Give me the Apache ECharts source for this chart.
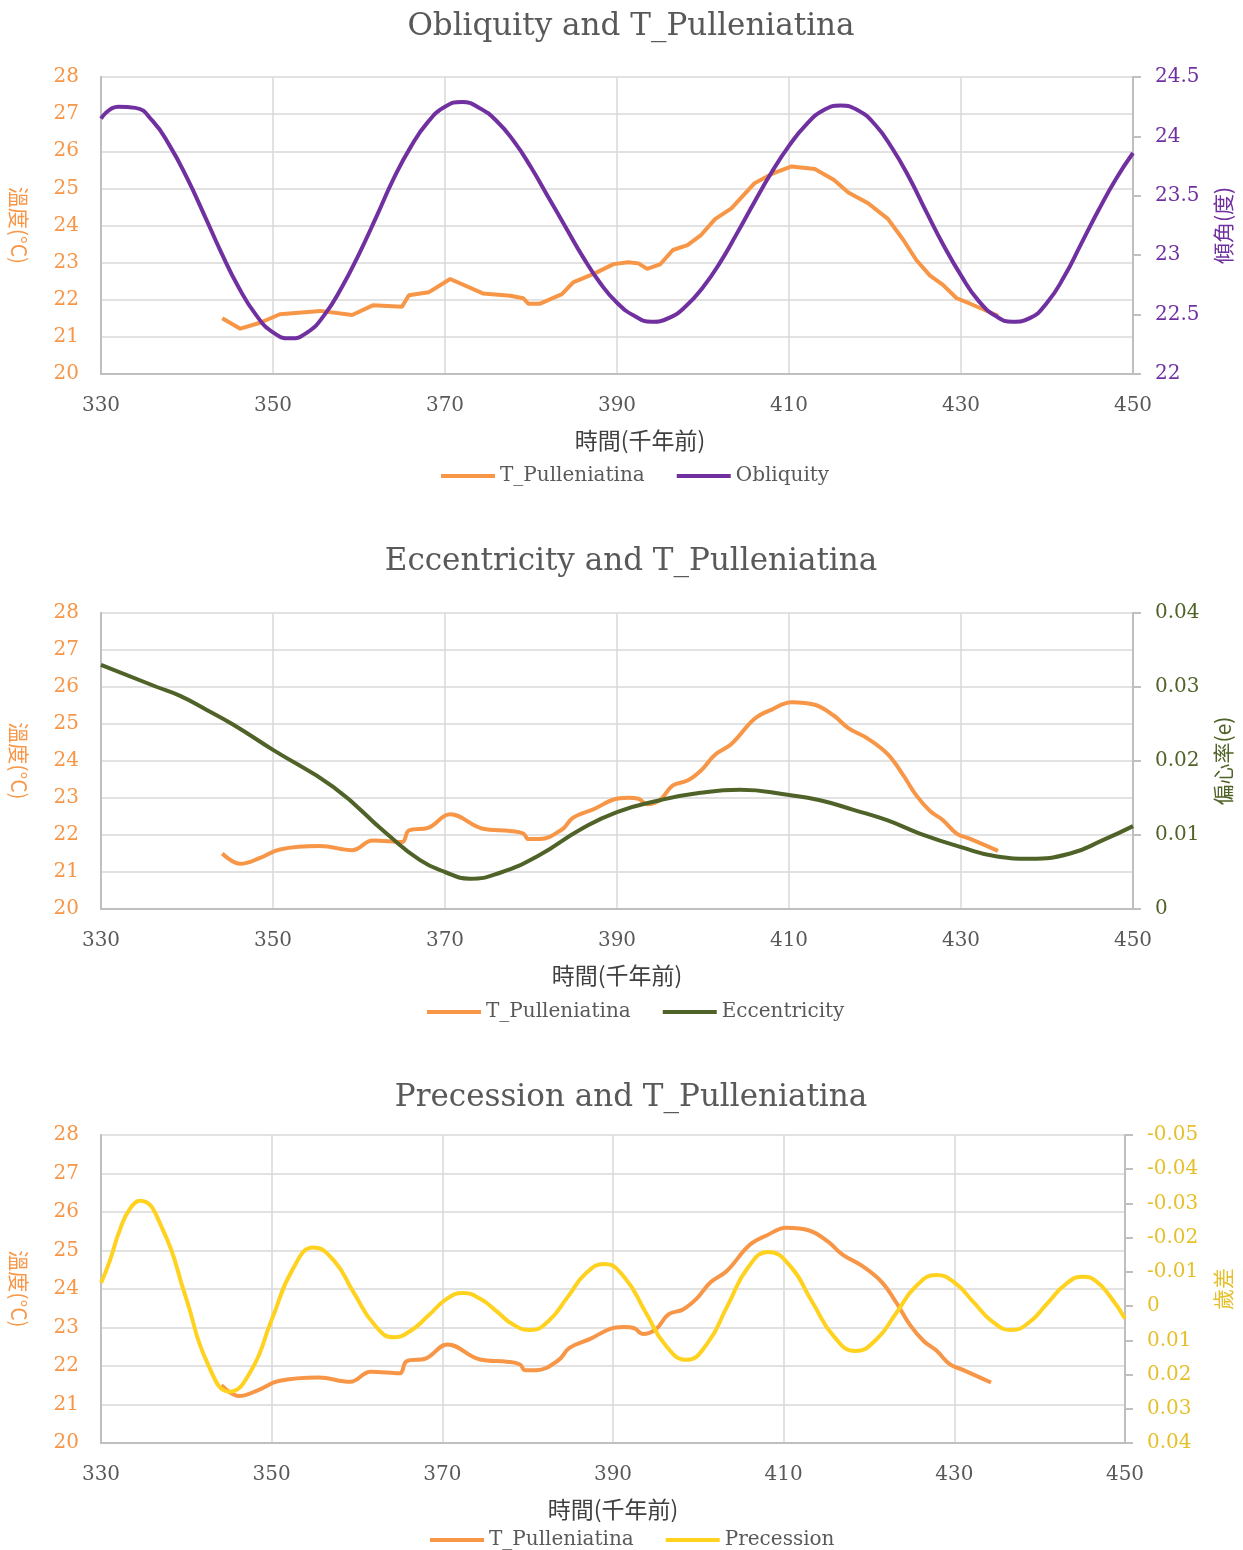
<!DOCTYPE html>
<html>
<head>
<meta charset="utf-8">
<script src="https://cdn.jsdelivr.net/npm/echarts@6/dist/echarts.min.js"></script>
<style>
  html, body { margin: 0; padding: 0; background: #fff; }
  #main { width: 1243px; height: 1550px; }
</style>
</head>
<body>
<div id="main"></div>
<script>
// T_Pulleniatina temperature (deg C) vs time (ka)
var tpTime = [344.1, 346.2, 348.5, 350.8, 355.5, 359.2, 361.6, 365.0, 365.8, 368.1, 370.6, 374.4, 377.6, 379.1, 379.7, 381.0, 383.6, 384.9, 387.4, 389.6, 391.3, 392.5, 393.5, 395.0, 396.5, 398.2, 399.8, 401.4, 403.3, 406.0, 408.0, 410.3, 413.0, 415.2, 416.9, 419.2, 421.5, 423.3, 424.8, 426.4, 427.9, 429.5, 431.0, 434.3];
var tpTemp = [21.50, 21.22, 21.38, 21.61, 21.70, 21.59, 21.85, 21.81, 22.12, 22.20, 22.56, 22.17, 22.11, 22.04, 21.89, 21.89, 22.15, 22.47, 22.71, 22.96, 23.01, 22.98, 22.83, 22.95, 23.34, 23.47, 23.75, 24.17, 24.46, 25.14, 25.39, 25.59, 25.52, 25.23, 24.89, 24.60, 24.18, 23.61, 23.07, 22.65, 22.40, 22.04, 21.90, 21.57];

// Obliquity (deg), every 2 ka
var oblTime = [330, 332, 334, 336, 338, 340, 342, 344, 346, 348, 350, 352, 354, 356, 358, 360, 362, 364, 366, 368, 370, 372, 374, 376, 378, 380, 382, 384, 386, 388, 390, 392, 394, 396, 398, 400, 402, 404, 406, 408, 410, 412, 414, 416, 418, 420, 422, 424, 426, 428, 430, 432, 434, 436, 438, 440, 442, 444, 446, 448, 450];
var oblValue = [24.15, 24.25, 24.24, 24.13, 23.92, 23.65, 23.34, 23.02, 22.73, 22.50, 22.35, 22.30, 22.35, 22.50, 22.73, 23.01, 23.32, 23.64, 23.91, 24.12, 24.25, 24.29, 24.24, 24.13, 23.96, 23.74, 23.49, 23.24, 22.99, 22.77, 22.60, 22.49, 22.44, 22.47, 22.57, 22.73, 22.94, 23.19, 23.45, 23.70, 23.92, 24.10, 24.22, 24.26, 24.22, 24.10, 23.90, 23.65, 23.36, 23.08, 22.83, 22.62, 22.49, 22.44, 22.47, 22.60, 22.82, 23.10, 23.38, 23.64, 23.86];

// Eccentricity (e)
var eccTime = [330, 336.5, 339.2, 342.3, 345.4, 350.0, 357.0, 363.2, 367.1, 370.0, 372.9, 376.4, 381.0, 385.7, 390.0, 395.0, 399.7, 404.3, 410.0, 413.6, 417.5, 421.4, 425.2, 429.9, 434.2, 438.0, 442.7, 446.5, 450];
var eccValue = [0.0330, 0.0300, 0.0288, 0.0269, 0.0249, 0.0215, 0.0165, 0.0102, 0.0066, 0.0050, 0.0041, 0.0049, 0.0073, 0.0107, 0.0131, 0.0147, 0.0157, 0.0161, 0.0154, 0.0147, 0.0134, 0.0120, 0.0102, 0.0084, 0.0071, 0.0068, 0.0075, 0.0093, 0.0112];

// Precession
var preTime = [330, 331, 332.2, 333.4, 334.6, 337.2, 339.9, 342.5, 345.1, 347.6, 350.0, 352.5, 354.9, 357.3, 359.6, 362.0, 364.3, 366.3, 368.4, 370.4, 372.4, 374.4, 376.4, 378.3, 380.3, 382.5, 384.7, 386.8, 389.0, 391.4, 393.8, 396.2, 398.6, 401.0, 403.4, 405.8, 408.2, 410.8, 413.3, 415.9, 418.4, 420.8, 423.2, 425.5, 427.9, 430.1, 432.3, 434.5, 436.7, 438.8, 440.9, 443.0, 445.1, 446.6, 448.2, 450];
var preValue = [-0.0068, -0.0130, -0.0222, -0.0285, -0.0308, -0.0226, -0.0029, 0.0168, 0.0250, 0.0188, 0.0040, -0.0109, -0.0171, -0.0133, -0.0040, 0.0053, 0.0091, 0.0072, 0.0027, -0.0019, -0.0038, -0.0022, 0.0016, 0.0054, 0.0070, 0.0042, -0.0027, -0.0095, -0.0123, -0.0082, 0.0017, 0.0116, 0.0157, 0.0111, 0.0000, -0.0112, -0.0158, -0.0116, -0.0014, 0.0089, 0.0131, 0.0099, 0.0020, -0.0058, -0.0091, -0.0067, -0.0010, 0.0046, 0.0070, 0.0047, -0.0008, -0.0063, -0.0086, -0.0073, -0.0030, 0.0036];

var titles = ['Obliquity and T_Pulleniatina', 'Eccentricity and T_Pulleniatina', 'Precession and T_Pulleniatina'];
var xTicks = [330, 350, 370, 390, 410, 430, 450];

function pairs(xs, ys) {
    return xs.map(function (x, i) { return [x, ys[i]]; });
}

var FONT = "'DejaVu Serif', 'Noto Sans CJK TC', serif";
var CJK = "'Noto Sans CJK TC', 'DejaVu Serif', sans-serif";
var ORANGE = '#F79646';
var PURPLE = '#7030A0';
var GREEN = '#4F6228';
var YELLOW = '#FFD21F';
var GRID = '#D9D9D9';
var AXIS = '#BFBFBF';

var grids = [
    { left: 101, top: 77, width: 1032, height: 297 },
    { left: 101, top: 613, width: 1032, height: 296 },
    { left: 101, top: 1135, width: 1024, height: 308 }
];

function xAxisFor(i, shift) {
    return {
        type: 'value', gridIndex: i, min: xTicks[0], max: xTicks[xTicks.length - 1], interval: 20,
        name: '時間(千年前)', nameLocation: 'middle', nameGap: 55,
        nameTextStyle: { fontFamily: CJK, fontSize: 23, color: '#404040', padding: [0, 0, 0, shift] },
        axisLine: { show: true, onZero: false, lineStyle: { color: AXIS, width: 2 } },
        axisTick: { show: false },
        axisLabel: { margin: 22, fontFamily: FONT, fontSize: 20, color: '#595959' },
        splitLine: { show: true, lineStyle: { color: GRID, width: 1.5 } }
    };
}

function tempAxis(i) {
    return {
        type: 'value', gridIndex: i, position: 'left', min: 20, max: 28, interval: 1,
        name: '溫度(°C)', nameLocation: 'middle', nameGap: 72, nameRotate: -90,
        nameTextStyle: { fontFamily: CJK, fontSize: 21, color: ORANGE },
        axisLine: { show: true, onZero: false, lineStyle: { color: AXIS, width: 2 } },
        axisTick: { show: false },
        axisLabel: { margin: 22, fontFamily: FONT, fontSize: 20, color: ORANGE },
        splitLine: { show: true, lineStyle: { color: GRID, width: 1.5 } }
    };
}

function rightAxis(i, name, color, min, max, interval, inverse, gap) {
    return {
        type: 'value', gridIndex: i, position: 'right', min: min, max: max, interval: interval, inverse: inverse,
        name: name, nameLocation: 'middle', nameGap: gap, nameRotate: 90,
        nameTextStyle: { fontFamily: CJK, fontSize: 21, color: color },
        axisLine: { show: true, onZero: false, lineStyle: { color: AXIS, width: 2 } },
        axisTick: { show: true, length: 8, lineStyle: { color: AXIS, width: 2 } },
        axisLabel: { margin: 22, fontFamily: FONT, fontSize: 20, color: color },
        splitLine: { show: false }
    };
}

function lineSeries(name, data, xi, yi, color, smooth) {
    return {
        name: name, type: 'line', xAxisIndex: xi, yAxisIndex: yi, data: data,
        smooth: smooth, showSymbol: false, symbol: 'none',
        lineStyle: { color: color, width: 4 }, itemStyle: { color: color }
    };
}

function legendFor(left, top, names) {
    return {
        left: left, top: top, data: names, icon: 'rect', itemWidth: 54, itemHeight: 4, itemGap: 32,
        textStyle: { fontFamily: FONT, fontSize: 20, color: '#595959' }
    };
}

var tp = pairs(tpTime, tpTemp);

var option = {
    animation: false,
    backgroundColor: '#fff',
    title: [
        { text: titles[0], left: 626, top: 6, textAlign: 'center', textStyle: { fontFamily: FONT, fontSize: 31, fontWeight: 'normal', color: '#595959' } },
        { text: titles[1], left: 626, top: 541, textAlign: 'center', textStyle: { fontFamily: FONT, fontSize: 31, fontWeight: 'normal', color: '#595959' } },
        { text: titles[2], left: 626, top: 1077, textAlign: 'center', textStyle: { fontFamily: FONT, fontSize: 31, fontWeight: 'normal', color: '#595959' } }
    ],
    legend: [
        legendFor(436, 461, ['T_Pulleniatina', 'Obliquity']),
        legendFor(422, 997, ['T_Pulleniatina', 'Eccentricity']),
        legendFor(425, 1525, ['T_Pulleniatina', 'Precession'])
    ],
    grid: grids,
    xAxis: [xAxisFor(0, 46), xAxisFor(1, 0), xAxisFor(2, 0)],
    yAxis: [
        tempAxis(0),
        rightAxis(0, '傾角(度)', PURPLE, 22, 24.5, 0.5, false, 80),
        tempAxis(1),
        rightAxis(1, '偏心率(e)', GREEN, 0, 0.04, 0.01, false, 80),
        tempAxis(2),
        rightAxis(2, '歲差', '#E6C02B', -0.05, 0.04, 0.01, true, 88)
    ],
    series: [
        lineSeries('T_Pulleniatina', tp, 0, 0, ORANGE, false),
        lineSeries('Obliquity', pairs(oblTime, oblValue), 0, 1, PURPLE, true),
        lineSeries('T_Pulleniatina', tp, 1, 2, ORANGE, 0.4),
        lineSeries('Eccentricity', pairs(eccTime, eccValue), 1, 3, GREEN, true),
        lineSeries('T_Pulleniatina', tp, 2, 4, ORANGE, 0.4),
        lineSeries('Precession', pairs(preTime, preValue), 2, 5, YELLOW, true)
    ]
};

var chart = echarts.init(document.getElementById('main'));
chart.setOption(option);
</script>
</body>
</html>
